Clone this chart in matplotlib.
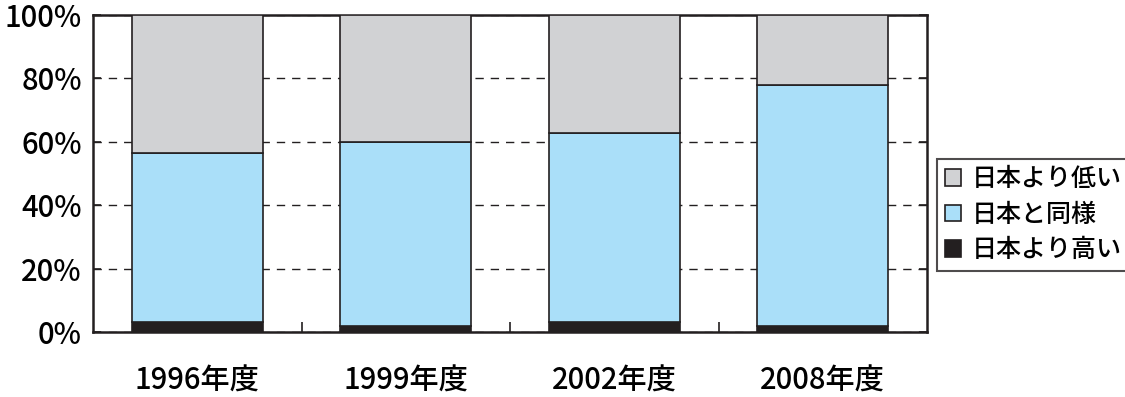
import matplotlib
matplotlib.use("Agg")
import matplotlib.pyplot as plt
import numpy as np

plt.rcParams['font.family'] = ['Noto Sans CJK JP', 'DejaVu Sans']
plt.rcParams['font.weight'] = 500

years = ["1996年度", "1999年度", "2002年度", "2008年度"]
higher = [3.2, 2.0, 3.2, 2.0]      # 日本より高い
same = [53.2, 58.0, 59.5, 75.9]    # 日本と同様
lower = [43.6, 40.0, 37.3, 22.1]   # 日本より低い
series_labels = ["日本より低い", "日本と同様", "日本より高い"]
colors = {"dark": "#231f20", "blue": "#aadff9", "gray": "#d1d2d4"}

fig = plt.figure(figsize=(11.25, 3.97), dpi=100)
ax = fig.add_axes([93/1125, 65/397, 834/1125, 317/397])

x = np.arange(len(years))
w = 0.63
higher = np.array(higher)
same = np.array(same)
lower = np.array(lower)
b1 = ax.bar(x, higher, w, color=colors["dark"], edgecolor=colors["dark"], lw=1.2, zorder=3)
b2 = ax.bar(x, same, w, bottom=higher, color=colors["blue"], edgecolor=colors["dark"], lw=1.2, zorder=3)
b3 = ax.bar(x, lower, w, bottom=higher + same, color=colors["gray"], edgecolor=colors["dark"], lw=1.2, zorder=3)

ax.set_xlim(-0.5, len(years) - 0.5)
ax.set_ylim(0, 100)
ax.set_yticks([0, 20, 40, 60, 80, 100])
ax.set_yticklabels([f"{v}%" for v in range(0, 101, 20)], fontsize=21)
ax.yaxis.grid(True, ls=(0, (6, 5)), color="#231f20", lw=1)
ax.set_axisbelow(True)

ax.set_xticks(x)
ax.set_xticklabels(years, fontsize=21)
ax.tick_params(axis="x", length=0, pad=24)
ax.set_xticks(x[:-1] + 0.5, minor=True)
ax.tick_params(axis="x", which="minor", direction="in", length=7, width=1.2, color="#231f20")
ax.tick_params(axis="y", direction="in", length=6, width=1.2, color="#231f20", right=True, pad=8)
for s in ax.spines.values():
    s.set_linewidth(1.8)
    s.set_color("#231f20")

leg = ax.legend([b3, b2, b1], series_labels, loc="center left", bbox_to_anchor=(1.012, 0.37),
                fontsize=18, frameon=True, fancybox=False, edgecolor="#231f20",
                handlelength=0.65, handleheight=0.65, handletextpad=0.45, labelspacing=0.38,
                borderpad=0.3, borderaxespad=0)
leg.get_frame().set_linewidth(1.5)

fig.savefig("out.png", dpi=100)
